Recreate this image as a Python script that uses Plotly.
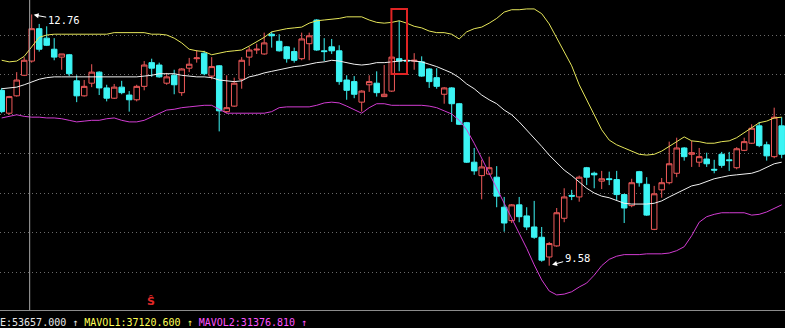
import plotly.graph_objects as go

# ---- data ----
open_ = [11.80, 11.51, 11.73, 11.99, 12.17, 12.58, 12.46, 12.32, 12.22, 12.25,
         11.92, 11.73, 11.89, 12.03, 11.83, 11.70, 11.84, 11.74, 11.68, 11.85,
         12.15, 12.12, 11.89, 11.99, 11.77, 12.08, 12.20, 12.27, 11.98, 12.11,
         11.53, 11.60, 11.94, 12.22, 12.31, 12.26, 12.51, 12.42, 12.35, 12.29,
         12.20, 12.39, 12.69, 12.30, 12.35, 12.30, 11.93, 11.91, 11.65, 11.87,
         11.89, 11.72, 11.79, 12.20, 12.18, 12.17, 12.16, 12.07, 11.96, 11.75,
         11.83, 11.63, 11.39, 10.89, 10.72, 10.74, 10.70, 10.32, 10.15, 10.35,
         10.21, 10.07, 9.94, 9.69, 9.83, 10.18, 10.47, 10.45, 10.82, 10.75,
         10.65, 10.68, 10.67, 10.48, 10.34, 10.77, 10.61, 10.04, 10.54, 10.63,
         10.75, 11.07, 10.99, 10.89, 10.93, 10.80, 10.99, 10.92, 10.82, 11.04,
         11.13, 11.35, 11.11, 10.96, 11.35]
close = [11.53, 11.72, 11.93, 12.18, 12.58, 12.32, 12.37, 12.22, 12.26, 12.01,
         11.73, 11.85, 12.03, 11.83, 11.70, 11.84, 11.77, 11.68, 11.85, 12.12,
         12.08, 11.97, 11.97, 11.87, 12.07, 12.13, 12.21, 12.01, 12.10, 11.54,
         11.58, 11.89, 12.18, 12.31, 12.32, 12.40, 12.49, 12.30, 12.20, 12.18,
         12.45, 12.49, 12.31, 12.29, 12.30, 11.91, 11.80, 11.75, 11.79, 11.91,
         11.77, 11.75, 12.22, 12.17, 12.17, 12.18, 11.98, 11.91, 11.85, 11.83,
         11.63, 11.37, 10.89, 10.78, 10.83, 10.82, 10.46, 10.12, 10.35, 10.20,
         10.07, 9.94, 9.65, 9.86, 10.25, 10.45, 10.46, 10.70, 10.70, 10.73,
         10.68, 10.67, 10.48, 10.31, 10.63, 10.63, 10.22, 10.49, 10.63, 10.87,
         11.07, 10.96, 11.01, 10.96, 10.87, 10.79, 10.85, 10.91, 11.06, 11.15,
         11.32, 11.10, 10.97, 11.46, 10.99]
high = [11.83, 11.73, 12.03, 12.22, 12.76, 12.64, 12.61, 12.46, 12.26, 12.26,
        11.99, 11.93, 12.13, 12.04, 11.87, 11.88, 11.92, 11.79, 11.87, 12.17,
        12.20, 12.15, 12.02, 12.06, 12.08, 12.21, 12.31, 12.30, 12.22, 12.12,
        11.99, 11.96, 12.22, 12.35, 12.39, 12.53, 12.54, 12.51, 12.36, 12.34,
        12.53, 12.53, 12.70, 12.46, 12.45, 12.37, 11.99, 11.98, 11.80, 11.99,
        12.04, 12.12, 12.23, 12.68, 12.21, 12.27, 12.23, 12.08, 12.08, 11.84,
        11.84, 11.64, 11.40, 11.07, 10.92, 10.96, 10.84, 10.45, 10.36, 10.45,
        10.32, 10.40, 10.07, 9.88, 10.31, 10.56, 10.54, 10.72, 10.83, 10.77,
        10.78, 10.77, 10.78, 10.49, 10.68, 10.78, 10.70, 10.59, 10.69, 11.15,
        11.20, 11.08, 11.16, 11.07, 11.01, 10.92, 11.02, 11.02, 11.08, 11.20,
        11.37, 11.40, 11.15, 11.58, 11.46]
low = [11.51, 11.49, 11.72, 11.98, 12.15, 12.29, 12.36, 12.18, 12.06, 11.98,
       11.65, 11.72, 11.84, 11.74, 11.66, 11.69, 11.75, 11.53, 11.66, 11.80,
       11.97, 11.96, 11.87, 11.75, 11.73, 12.03, 12.15, 11.99, 11.94, 11.28,
       11.51, 11.59, 11.82, 12.11, 12.26, 12.25, 12.34, 12.29, 12.15, 12.15,
       12.18, 12.18, 12.30, 12.17, 12.26, 11.87, 11.68, 11.70, 11.53, 11.78,
       11.72, 11.72, 11.78, 12.04, 12.16, 12.06, 11.97, 11.83, 11.82, 11.63,
       11.40, 11.36, 10.88, 10.73, 10.42, 10.73, 10.32, 10.01, 10.12, 10.13,
       10.03, 9.92, 9.63, 9.58, 9.82, 10.13, 10.41, 10.39, 10.60, 10.56,
       10.55, 10.60, 10.41, 10.12, 10.32, 10.58, 10.21, 10.03, 10.44, 10.61,
       10.70, 10.91, 10.83, 10.83, 10.83, 10.75, 10.82, 10.78, 10.80, 11.03,
       11.12, 11.08, 10.91, 10.94, 10.94]

boll_upper = [12.18, 12.16, 12.17, 12.23, 12.35, 12.47, 12.50, 12.51, 12.51, 12.51,
              12.51, 12.51, 12.51, 12.51, 12.51, 12.53, 12.53, 12.53, 12.53, 12.53,
              12.51, 12.51, 12.50, 12.46, 12.40, 12.32, 12.30, 12.29, 12.25, 12.27,
              12.29, 12.30, 12.31, 12.36, 12.41, 12.47, 12.54, 12.56, 12.58, 12.59,
              12.60, 12.65, 12.68, 12.69, 12.70, 12.71, 12.73, 12.73, 12.73, 12.69,
              12.66, 12.65, 12.66, 12.68, 12.65, 12.61, 12.59, 12.55, 12.53, 12.53,
              12.51, 12.45, 12.54, 12.58, 12.60, 12.65, 12.71, 12.79, 12.82, 12.82,
              12.83, 12.83, 12.77, 12.64, 12.46, 12.29, 12.11, 11.87, 11.68, 11.50,
              11.30, 11.17, 11.11, 11.07, 11.03, 10.99, 10.98, 10.99, 11.03, 11.09,
              11.16, 11.21, 11.16, 11.15, 11.13, 11.13, 11.15, 11.16, 11.20, 11.26,
              11.32, 11.39, 11.41, 11.45, 11.46]
boll_mid = [11.82, 11.83, 11.84, 11.87, 11.91, 11.94, 11.96, 11.97, 11.97, 11.97,
            11.97, 11.97, 11.97, 11.97, 11.97, 11.97, 11.97, 11.97, 11.97, 11.98,
            11.99, 12.01, 12.01, 12.01, 11.99, 11.98, 11.97, 11.97, 11.96, 11.93,
            11.92, 11.91, 11.92, 11.97, 11.99, 12.02, 12.04, 12.06, 12.08, 12.10,
            12.11, 12.13, 12.15, 12.16, 12.18, 12.17, 12.15, 12.13, 12.12, 12.13,
            12.15, 12.15, 12.16, 12.17, 12.18, 12.17, 12.16, 12.13, 12.10, 12.06,
            12.02, 11.96, 11.88, 11.82, 11.74, 11.68, 11.63, 11.55, 11.49, 11.40,
            11.30, 11.20, 11.09, 10.98, 10.89, 10.79, 10.72, 10.64, 10.56, 10.50,
            10.46, 10.44, 10.40, 10.37, 10.36, 10.36, 10.36, 10.37, 10.40, 10.45,
            10.50, 10.54, 10.59, 10.61, 10.65, 10.68, 10.70, 10.72, 10.73, 10.74,
            10.75, 10.78, 10.82, 10.87, 10.89]
boll_lower = [11.45, 11.47, 11.49, 11.47, 11.46, 11.46, 11.45, 11.45, 11.44, 11.42,
              11.40, 11.41, 11.42, 11.42, 11.44, 11.45, 11.42, 11.40, 11.40, 11.42,
              11.46, 11.51, 11.55, 11.56, 11.58, 11.59, 11.60, 11.61, 11.61, 11.56,
              11.51, 11.51, 11.51, 11.51, 11.51, 11.51, 11.53, 11.58, 11.59, 11.59,
              11.59, 11.59, 11.61, 11.64, 11.65, 11.64, 11.60, 11.55, 11.51, 11.58,
              11.63, 11.63, 11.61, 11.61, 11.61, 11.61, 11.61, 11.60, 11.58, 11.54,
              11.50, 11.42, 11.30, 11.13, 10.94, 10.77, 10.58, 10.37, 10.18, 9.99,
              9.80, 9.59, 9.40, 9.26, 9.21, 9.22, 9.25, 9.31, 9.36, 9.46,
              9.58, 9.66, 9.70, 9.72, 9.72, 9.72, 9.73, 9.73, 9.73, 9.74,
              9.77, 9.82, 9.96, 10.13, 10.20, 10.23, 10.25, 10.25, 10.25, 10.25,
              10.22, 10.23, 10.26, 10.30, 10.35]

volume = 53657.000
mavol1 = 37120.600
mavol2 = 31376.810

high_idx = 4       # 12.76
low_idx = 73       # 9.58
mark_idx = 53      # boxed candle
signal_idx = 20    # red S marker
cursor_pos = 3.73  # crosshair cursor

n = len(open_)
idx = list(range(n))

RED = "#f05a5a"
CYAN = "#3cf4f4"

fig = go.Figure()
fig.add_trace(go.Candlestick(
    x=idx, open=open_, high=high, low=low, close=close,
    increasing=dict(line=dict(color=RED, width=1), fillcolor="#000000"),
    decreasing=dict(line=dict(color=CYAN, width=1), fillcolor=CYAN),
    whiskerwidth=0, showlegend=False, hoverinfo="skip"))

for vals, col in [(boll_upper, "#e6e65a"), (boll_mid, "#f0f0f0"), (boll_lower, "#d23cd2")]:
    fig.add_trace(go.Scatter(x=idx, y=vals, mode="lines",
                             line=dict(color=col, width=1), showlegend=False,
                             hoverinfo="skip"))

# red box around the marked candle
fig.add_shape(type="rect", x0=mark_idx - 1.04, x1=mark_idx + 1.04,
              y0=low[mark_idx] - 0.035, y1=high[mark_idx] + 0.15,
              line=dict(color="#e02424", width=2))

# cursor line
fig.add_shape(type="line", x0=cursor_pos, x1=cursor_pos, yref="paper", y0=0, y1=1,
              line=dict(color="#a8a8a8", width=1))

mono = "DejaVu Sans Mono"
fig.add_annotation(x=high_idx, y=high[high_idx], text=f"{high[high_idx]:.2f}",
                   showarrow=True, ax=32, ay=6, arrowhead=2, arrowsize=1,
                   arrowwidth=1, arrowcolor="#ffffff", standoff=2,
                   font=dict(family=mono, size=10.5, color="#ffffff"))
fig.add_annotation(x=low_idx, y=low[low_idx], text=f"{low[low_idx]:.2f}",
                   showarrow=True, ax=28, ay=-8, arrowhead=2, arrowsize=1,
                   arrowwidth=1, arrowcolor="#ffffff", standoff=3,
                   font=dict(family=mono, size=10.5, color="#ffffff"))

fig.add_annotation(x=signal_idx, xshift=-1, yref="paper", y=0.026, yanchor="middle",
                   text="<b>Ŝ</b>", showarrow=False,
                   font=dict(family="DejaVu Sans", size=11, color="#e02828"))

status = (f'<span style="color:#e8e8e8">E:{volume:.3f} ↑</span> '
          f'<span style="color:#ffff55">MAVOL1:{mavol1:.3f} ↑</span> '
          f'<span style="color:#ff55ff">MAVOL2:{mavol2:.3f} ↑</span>')
fig.add_annotation(xref="paper", x=0, xanchor="left", xshift=-2,
                   yref="paper", y=-0.039, yanchor="middle",
                   text=status, showarrow=False,
                   font=dict(family=mono, size=10, color="#e8e8e8"))

fig.update_layout(
    width=785, height=328,
    margin=dict(l=0, r=0, t=0, b=18),
    paper_bgcolor="#000000", plot_bgcolor="#000000",
    boxgap=0.27, boxgroupgap=0,
    xaxis=dict(range=[-0.227, 104.44], showgrid=False, zeroline=False,
               showticklabels=False, ticks="", rangeslider=dict(visible=False),
               showline=True, linecolor="#8c8c8c", linewidth=1, mirror=False),
    yaxis=dict(range=[9.019, 12.943], dtick=0.5, tick0=9.5, showgrid=True,
               gridcolor="#6a6a6a", griddash="1px,3px", gridwidth=1,
               zeroline=False, showticklabels=False, ticks="", showline=False),
    hovermode=False,
)

fig.write_html("out.html")
